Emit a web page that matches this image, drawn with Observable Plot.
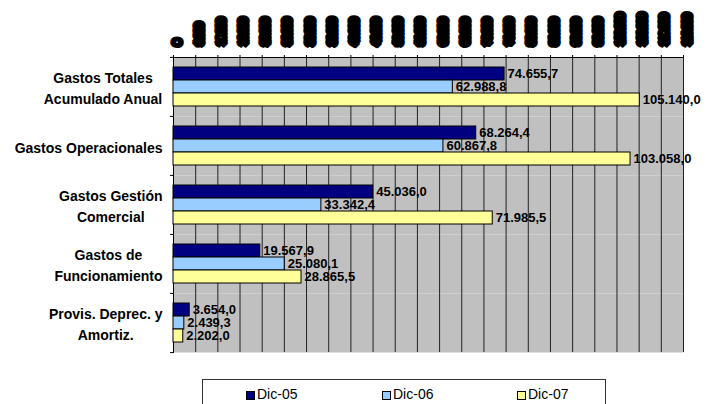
<!DOCTYPE html>
<html>
<head>
<meta charset="utf-8">
<script src="https://cdn.jsdelivr.net/npm/d3@7"></script>
<script src="https://cdn.jsdelivr.net/npm/@observablehq/plot@0.6"></script>
<style>
  body { margin: 0; background: #fff; font-family: "Liberation Sans", Arial, sans-serif; }
  #legend { margin-left: 202px; margin-top: 7px; width: 404px; height: 30px; border: 1px solid #333;
            display: flex; align-items: center; box-sizing: border-box; font-size: 14px; color: #000; }
  #legend .item { display: flex; align-items: center; position: absolute; }
  #legend .sw { width: 7px; height: 7px; border: 1px solid #000; margin-right: 2px; margin-top: 3px; }
</style>
</head>
<body>
<div id="chart"></div>
<div id="legend"></div>
<script>
const categories = ["Gastos Totales\nAcumulado Anual", "Gastos Operacionales", "Gastos Gestión\nComercial", "Gastos de\nFuncionamiento", "Provis. Deprec. y\nAmortiz."];
const series = ["Dic-05", "Dic-06", "Dic-07"];
const dic05 = [74655.7, 68264.4, 45036.0, 19567.9, 3654.0];
const dic06 = [62988.8, 60867.8, 33342.4, 25080.1, 2439.3];
const dic07 = [105140.0, 103058.0, 71985.5, 28865.5, 2202.0];
const colors = ["#000080", "#99CCFF", "#FFFF99"];
const xTicks = d3.range(0, 115001, 5000);

const seriesValues = [dic05, dic06, dic07];
const rows = [];
categories.forEach((c, i) => series.forEach((s, j) => rows.push({cat: c, series: s, value: seriesValues[j][i]})));

const loc = d3.formatLocale({decimal: ",", thousands: ".", grouping: [3], currency: ["", ""]});
const fmt1 = loc.format(",.1f");
const fmt0 = loc.format(",.0f");

const W = 706, H = 372, mTop = 56, mBottom = 20, mLeft = 173, mRight = 23;
const facetH = (H - mTop - mBottom) / categories.length;

const ctx = document.createElement("canvas").getContext("2d");
ctx.font = "bold 14px 'Liberation Sans', Arial, sans-serif";
const labelMarks = categories.map(c => {
  const w = d3.max(c.split("\n"), l => ctx.measureText(l).width);
  return Plot.text([c], {fy: d => d, text: d => d, frameAnchor: "left", textAnchor: "middle",
    dx: -(w / 2 + 11), fontSize: 14, fontWeight: "bold", lineHeight: 1.45, fill: "#000"});
});

const plot = Plot.plot({
  width: W, height: H,
  marginTop: mTop, marginBottom: mBottom, marginLeft: mLeft, marginRight: mRight,
  style: {fontFamily: "'Liberation Sans', Arial, sans-serif", background: "transparent"},
  x: {domain: [0, 115000], axis: null},
  y: {domain: series, paddingInner: 0, paddingOuter: 0.75, axis: null},
  fy: {domain: categories, padding: 0, axis: null},
  color: {domain: series, range: colors},
  marks: [
    Plot.frame({fill: "#C0C0C0", stroke: "none"}),
    Plot.gridX({ticks: xTicks, stroke: "#222", strokeOpacity: 1, strokeWidth: 1}),
    Plot.frame({anchor: "left", stroke: "#000"}),
    Plot.frame({anchor: "top", stroke: "#000", fy: () => categories[0]}),
    Plot.axisX({anchor: "top", ticks: xTicks, tickSize: 3, text: null, label: null, stroke: "#000", fy: () => categories[0]}),
    Plot.text(xTicks, {x: d => d, text: d => fmt0(d), frameAnchor: "top", rotate: -90, textAnchor: "start",
      dy: -13, fontSize: 8.5, fontWeight: "bold", fill: "#000", stroke: "#000", strokeWidth: 7.5,
      strokeLinejoin: "bevel", fy: () => categories[0]}),
    Plot.axisFy({anchor: "left", tickSize: 3, text: null, label: null, dy: -facetH / 2, stroke: "#000"}),
    Plot.axisFy({anchor: "left", ticks: [categories[categories.length - 1]], tickSize: 3, text: null, label: null, dy: facetH / 2, stroke: "#000"}),
    Plot.barX(rows, {x: "value", y: "series", fy: "cat", fill: "series", stroke: "#000", strokeWidth: 1}),
    Plot.text(rows, {x: "value", y: "series", fy: "cat", text: d => fmt1(d.value), textAnchor: "start",
      dx: 3, fontSize: 13, fontWeight: "bold", fill: "#000"}),
    ...labelMarks
  ]
});
document.getElementById("chart").appendChild(plot);

const legend = document.getElementById("legend");
legend.style.position = "relative";
const legendX = [43, 179, 314];
series.forEach((s, i) => {
  const item = document.createElement("div");
  item.className = "item";
  item.style.left = legendX[i] + "px";
  const sw = document.createElement("div");
  sw.className = "sw";
  sw.style.background = colors[i];
  const t = document.createElement("span");
  t.textContent = s;
  item.appendChild(sw); item.appendChild(t);
  legend.appendChild(item);
});
</script>
</body>
</html>
